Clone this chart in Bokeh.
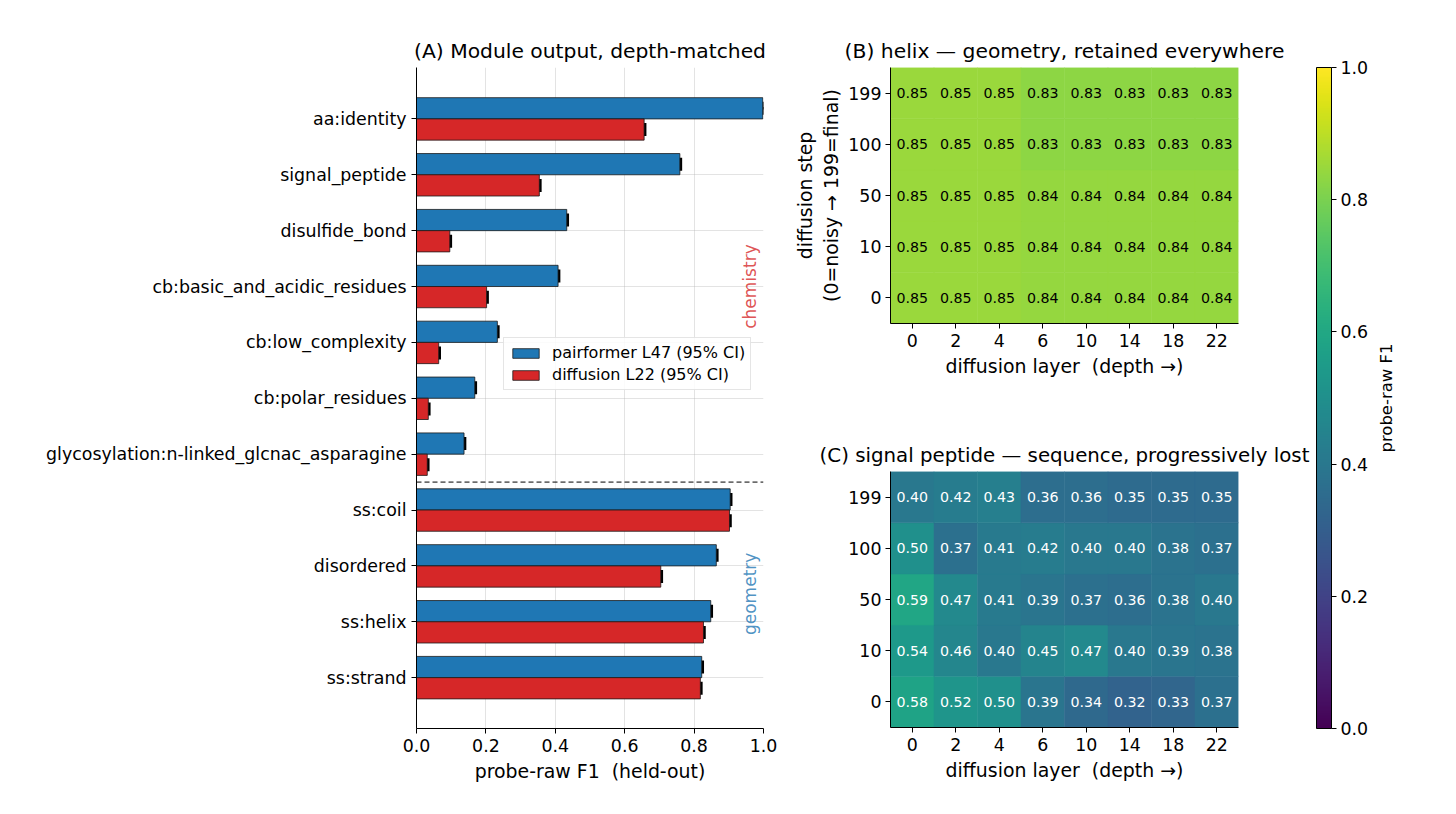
import numpy as np
from bokeh.plotting import figure
from bokeh.models import (ColumnDataSource, Range1d, FixedTicker, Whisker, TeeHead, Label, Span,
                          LinearColorMapper, FactorRange, Legend, LegendItem, ColorBar)
from bokeh.layouts import row, column
from bokeh.transform import linear_cmap
from bokeh.palettes import Viridis256
from bokeh.embed import file_html
from bokeh.resources import INLINE
from bokeh.core.properties import value

FONT = "DejaVu Sans"
NB = "\u00a0"

# ---------------- data ----------------
features = ["aa:identity", "signal_peptide", "disulfide_bond", "cb:basic_and_acidic_residues",
            "cb:low_complexity", "cb:polar_residues", "glycosylation:n-linked_glcnac_asparagine",
            "ss:coil", "disordered", "ss:helix", "ss:strand"]
n_chemistry = 7
pairformer_f1 = [0.998, 0.759, 0.433, 0.408, 0.233, 0.168, 0.137, 0.904, 0.864, 0.848, 0.822]
diffusion_f1 = [0.656, 0.354, 0.096, 0.202, 0.064, 0.034, 0.031, 0.902, 0.704, 0.827, 0.818]
pairformer_ci = [0.003, 0.003, 0.003, 0.003, 0.003, 0.003, 0.003, 0.003, 0.003, 0.003, 0.003]
diffusion_ci = [0.003, 0.003, 0.003, 0.003, 0.003, 0.003, 0.003, 0.003, 0.003, 0.003, 0.003]

layers = ["0", "2", "4", "6", "10", "14", "18", "22"]
steps = ["0", "10", "50", "100", "199"]  # bottom -> top

helix_f1 = {
    "199": [0.85, 0.85, 0.85, 0.83, 0.83, 0.83, 0.83, 0.83],
    "100": [0.85, 0.85, 0.85, 0.83, 0.83, 0.83, 0.83, 0.83],
    "50":  [0.85, 0.85, 0.85, 0.84, 0.84, 0.84, 0.84, 0.84],
    "10":  [0.85, 0.85, 0.85, 0.84, 0.84, 0.84, 0.84, 0.84],
    "0":   [0.85, 0.85, 0.85, 0.84, 0.84, 0.84, 0.84, 0.84],
}
signal_f1 = {
    "199": [0.40, 0.42, 0.43, 0.36, 0.36, 0.35, 0.35, 0.35],
    "100": [0.50, 0.37, 0.41, 0.42, 0.40, 0.40, 0.38, 0.37],
    "50":  [0.59, 0.47, 0.41, 0.39, 0.37, 0.36, 0.38, 0.40],
    "10":  [0.54, 0.46, 0.40, 0.45, 0.47, 0.40, 0.39, 0.38],
    "0":   [0.58, 0.52, 0.50, 0.39, 0.34, 0.32, 0.33, 0.37],
}
cbar_ticks = [0.0, 0.2, 0.4, 0.6, 0.8, 1.0]
x_ticks = [0.0, 0.2, 0.4, 0.6, 0.8, 1.0]

BLUE = "#1f77b4"
RED = "#d62728"


def style_axes(p, tick_size="17.4px", label_size="18.9px"):
    for ax in p.axis:
        ax.axis_line_color = "black"
        ax.major_tick_line_color = "black"
        ax.minor_tick_line_color = None
        ax.major_tick_in = 0
        ax.major_tick_out = 5
        ax.major_label_text_font = FONT
        ax.major_label_text_font_size = tick_size
        ax.major_label_text_color = "black"
        ax.axis_label_text_font = FONT
        ax.axis_label_text_font_size = label_size
        ax.axis_label_text_font_style = "normal"
        ax.axis_label_text_color = "black"
    p.title.text_font = FONT
    p.title.text_font_size = "20.3px"
    p.title.text_font_style = "normal"
    p.title.text_color = "black"
    p.title.align = "center"
    p.outline_line_color = None


# ---------------- panel A ----------------
n = len(features)
idx = np.arange(n)
pA = figure(width=780, height=800, x_range=Range1d(0, 1), y_range=Range1d(10.91, -0.92),
            title="(A) Module output, depth-matched", toolbar_location=None, output_backend="svg",
            min_border_left=416, min_border_right=17, min_border_top=67, min_border_bottom=72)

srcA = ColumnDataSource(dict(
    yb=idx - 0.19, yr=idx + 0.19,
    pf=pairformer_f1, df=diffusion_f1,
    pf_lo=np.array(pairformer_f1) - np.array(pairformer_ci),
    pf_hi=np.array(pairformer_f1) + np.array(pairformer_ci),
    df_lo=np.array(diffusion_f1) - np.array(diffusion_ci),
    df_hi=np.array(diffusion_f1) + np.array(diffusion_ci),
))
rb = pA.hbar(y="yb", left=0, right="pf", height=0.38, fill_color=BLUE, line_color="#1a1a1a",
             line_width=0.8, source=srcA)
rr = pA.hbar(y="yr", left=0, right="df", height=0.38, fill_color=RED, line_color="#1a1a1a",
             line_width=0.8, source=srcA)
for base, lo, hi in (("yb", "pf_lo", "pf_hi"), ("yr", "df_lo", "df_hi")):
    w = Whisker(base=base, lower=lo, upper=hi, dimension="width", source=srcA,
                line_color="black", line_width=2.5,
                lower_head=TeeHead(size=13, line_width=2.5, line_color="black"),
                upper_head=TeeHead(size=13, line_width=2.5, line_color="black"))
    pA.add_layout(w)

pA.add_layout(Span(location=n_chemistry - 0.5, dimension="width", line_color="black",
                   line_width=1, line_dash="5 3"))

pA.xaxis.ticker = FixedTicker(ticks=x_ticks)
pA.xaxis.major_label_overrides = {t: f"{t:.1f}" for t in x_ticks}
pA.xaxis.axis_label = "probe-raw F1 " + NB + "(held-out)"
pA.yaxis.ticker = FixedTicker(ticks=list(range(n)))
pA.yaxis.major_label_overrides = {i: f for i, f in enumerate(features)}
pA.xgrid.grid_line_color = "#b0b0b0"
pA.xgrid.grid_line_alpha = 0.35
pA.ygrid.grid_line_color = "#b0b0b0"
pA.ygrid.grid_line_alpha = 0.35
style_axes(pA)

pA.add_layout(Label(x=0.962, y=(n_chemistry - 1) / 2, text="chemistry", angle=np.pi / 2,
                    text_align="center", text_baseline="middle", text_color=RED, text_alpha=0.8,
                    text_font=FONT, text_font_size="17px"))
pA.add_layout(Label(x=0.962, y=(n_chemistry + n - 1) / 2, text="geometry", angle=np.pi / 2,
                    text_align="center", text_baseline="middle", text_color=BLUE, text_alpha=0.8,
                    text_font=FONT, text_font_size="17px"))

legend = Legend(items=[LegendItem(label="pairformer L47 (95% CI)", renderers=[rb]),
                       LegendItem(label="diffusion L22 (95% CI)", renderers=[rr])],
                location=(87, 338))
legend.label_text_font = FONT
legend.label_text_font_size = "16px"
legend.label_text_color = "black"
legend.glyph_width = 33
legend.glyph_height = 12
legend.label_standoff = 10
legend.padding = 5
legend.spacing = 3
legend.margin = 0
legend.border_line_color = "#cccccc"
legend.border_line_width = 1
legend.background_fill_alpha = 0.85
pA.add_layout(legend, "center")


# ---------------- heatmaps ----------------
def heatmap(title, data, ylabel, min_top, min_bottom):
    p = figure(width=535, height=400, x_range=FactorRange(*layers), y_range=FactorRange(*steps),
               title=title, toolbar_location=None, output_backend="svg",
               min_border_left=110, min_border_right=77, min_border_top=min_top,
               min_border_bottom=min_bottom)
    xs, ys, vs = [], [], []
    for s in steps:
        for l, v in zip(layers, data[s]):
            xs.append(l)
            ys.append(s)
            vs.append(v)
    src = ColumnDataSource(dict(x=xs, y=ys, v=vs, label=[f"{v:.2f}" for v in vs],
                                tc=["black" if v > 0.7 else "white" for v in vs]))
    cmap = linear_cmap("v", Viridis256, 0, 1)
    p.rect(x="x", y="y", width=1, height=1, fill_color=cmap, line_color=cmap, line_width=0.5,
           source=src)
    p.text(x="x", y="y", text="label", text_color="tc", text_align="center",
           text_baseline="middle", text_font=value(FONT), text_font_size="14.2px", source=src)
    p.xgrid.visible = False
    p.ygrid.visible = False
    p.xaxis.axis_label = "diffusion layer " + NB + "(depth →)"
    if ylabel:
        p.yaxis.axis_label = ylabel
    style_axes(p)
    p.yaxis.axis_label_standoff = 3
    p.yaxis.major_label_standoff = 4
    return p


pB = heatmap("(B) helix — geometry, retained everywhere", helix_f1,
             "diffusion step\n(0=noisy → 199=final)", 67, 77)
pC = heatmap("(C) signal peptide — sequence, progressively lost", signal_f1, None, 71, 73)
pC.title.text_font_size = "19.8px"

# ---------------- colour bar ----------------
pCB = figure(width=110, height=800, x_range=Range1d(0, 104), y_range=Range1d(0, 1),
             toolbar_location=None, output_backend="svg", x_axis_location=None,
             y_axis_location=None,
             min_border_left=1, min_border_right=5, min_border_top=67, min_border_bottom=72)
pCB.grid.visible = False
pCB.outline_line_color = None
cbar = ColorBar(color_mapper=LinearColorMapper(palette=Viridis256, low=0, high=1),
                location=(0, 0), width=15, height=661, padding=0, margin=0,
                ticker=FixedTicker(ticks=cbar_ticks),
                major_label_overrides={t: f"{t:.1f}" for t in cbar_ticks},
                major_label_text_font=FONT, major_label_text_font_size="17.4px",
                major_label_text_color="black", label_standoff=4,
                major_tick_in=0, major_tick_out=5, major_tick_line_color="black",
                minor_tick_line_color=None, bar_line_color="black", bar_line_width=1,
                background_fill_alpha=0, border_line_color=None)
pCB.add_layout(cbar, "center")
pCB.add_layout(Label(x=70, y=0.5, text="probe-raw F1", angle=np.pi / 2, text_align="center",
                     text_baseline="middle", text_color="black", text_font=FONT,
                     text_font_size="16.5px"))

layout = row(pA, column(pB, pC), pCB)
open("out.html", "w").write(file_html(layout, INLINE))
